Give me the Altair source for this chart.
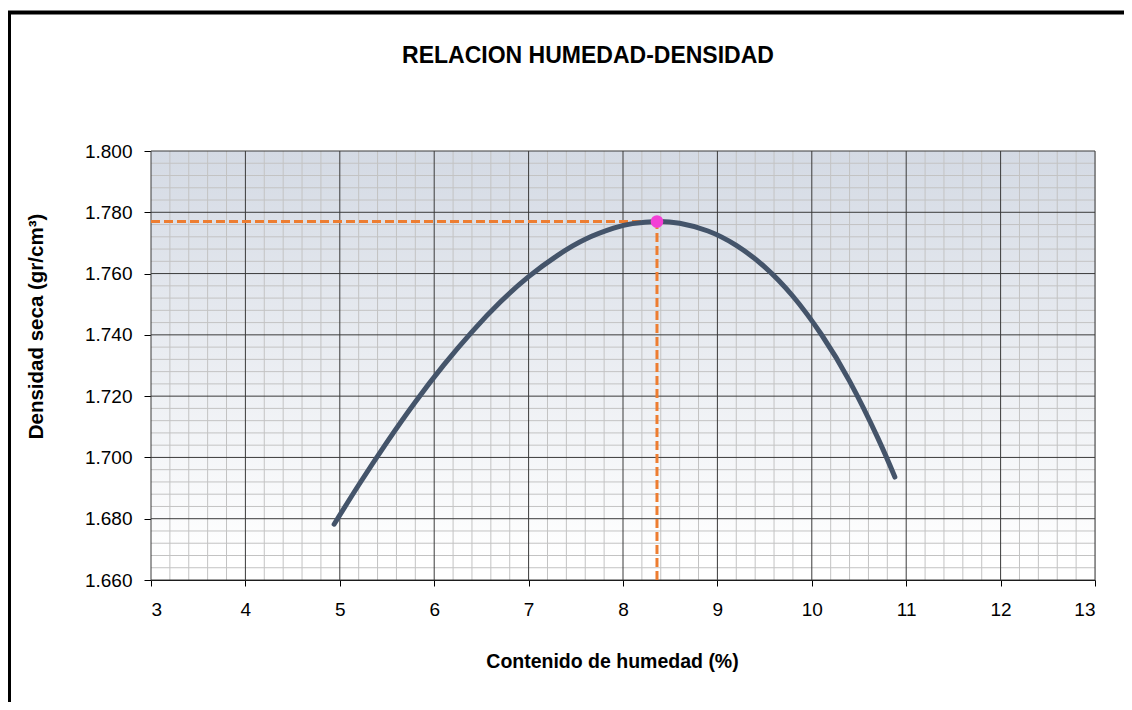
import altair as alt
import pandas as pd

# ---- data ----
moisture = [4.94, 5.20, 5.50, 5.80, 6.10, 6.40, 6.70, 7.00, 7.30, 7.60, 7.90, 8.10, 8.36,
            8.60, 8.90, 9.20, 9.50, 9.80, 10.10, 10.40, 10.70, 10.88]
density = [1.6782, 1.6910, 1.7050, 1.7181, 1.7301, 1.7410, 1.7507, 1.7590, 1.7658, 1.7712, 1.7748, 1.7763, 1.7770,
           1.7764, 1.7739, 1.7692, 1.7622, 1.7526, 1.7402, 1.7249, 1.7063, 1.6936]

opt_moisture = 8.36
max_density = 1.777

x_major = [3, 4, 5, 6, 7, 8, 9, 10, 11, 12, 13]
y_major = [1.66, 1.68, 1.70, 1.72, 1.74, 1.76, 1.78, 1.80]
x_minor = [round(3 + 0.2 * i, 1) for i in range(51) if i % 5]
y_minor = [round(1.66 + 0.004 * i, 3) for i in range(36) if i % 5]

title_text = ["RELACION HUMEDAD-DENSIDAD"]
x_title = "Contenido de humedad (%)"
y_title = "Densidad seca (gr/cm³)"

X_DOM = [3, 13]
Y_DOM = [1.66, 1.80]
W, H = 944, 429
FONT = "Liberation Sans"

xs = alt.Scale(domain=X_DOM, nice=False, zero=False)
ys = alt.Scale(domain=Y_DOM, nice=False, zero=False)

curve_df = pd.DataFrame({"x": moisture, "y": density})

# frame around the whole chart (decoration)
frame = alt.Chart(pd.DataFrame({"a": [0]})).mark_rect(
    filled=False, stroke="black", strokeWidth=4
).encode(x=alt.value(-142), x2=alt.value(1100), y=alt.value(-138.5), y2=alt.value(700))

bg = alt.Chart(pd.DataFrame({"x0": [X_DOM[0]], "x1": [X_DOM[1]], "y0": [Y_DOM[0]], "y1": [Y_DOM[1]]})).mark_rect(
    color=alt.LinearGradient(
        gradient="linear",
        stops=[alt.GradientStop(offset=0, color="#d4dae4"),
               alt.GradientStop(offset=0.95, color="#ffffff"),
               alt.GradientStop(offset=1, color="#ffffff")],
        x1=0, x2=0, y1=0, y2=1,
    )
).encode(
    x=alt.X("x0:Q", scale=xs, axis=None), x2="x1:Q",
    y=alt.Y("y0:Q", scale=ys, axis=None), y2="y1:Q",
)

minor_v = alt.Chart(pd.DataFrame({"v": x_minor})).mark_rule(color="#c3c3c3", strokeWidth=1).encode(
    x=alt.X("v:Q", scale=xs, axis=None))
minor_h = alt.Chart(pd.DataFrame({"v": y_minor})).mark_rule(color="#c3c3c3", strokeWidth=1).encode(
    y=alt.Y("v:Q", scale=ys, axis=None))
major_v = alt.Chart(pd.DataFrame({"v": x_major})).mark_rule(color="#3a3a3a", strokeWidth=1).encode(
    x=alt.X("v:Q", scale=xs, axis=None))
major_h = alt.Chart(pd.DataFrame({"v": y_major})).mark_rule(color="#3a3a3a", strokeWidth=1).encode(
    y=alt.Y("v:Q", scale=ys, axis=None))

# minor ticks (inside the plot) through their own axes
minor_ticks = alt.Chart(pd.DataFrame({"x": x_minor[:len(y_minor)], "y": y_minor})).mark_point(opacity=0).encode(
    x=alt.X("x:Q", scale=xs, axis=alt.Axis(values=x_minor, orient="bottom", offset=-4, tickSize=4,
                                           labels=False, domain=False, grid=False, title=None,
                                           tickColor="#000000", tickWidth=1)),
    y=alt.Y("y:Q", scale=ys, axis=alt.Axis(values=y_minor, orient="left", offset=-5, tickSize=5,
                                           labels=False, domain=False, grid=False, title=None,
                                           tickColor="#000000", tickWidth=1)),
)

dash_h = alt.Chart(pd.DataFrame({"x": [X_DOM[0]], "x2": [opt_moisture], "y": [max_density]})).mark_rule(
    color="#ed7d31", strokeWidth=3, strokeDash=[9, 4]
).encode(x=alt.X("x:Q", scale=xs, axis=None), x2="x2:Q", y=alt.Y("y:Q", scale=ys, axis=None))
dash_v = alt.Chart(pd.DataFrame({"x": [opt_moisture], "y": [Y_DOM[0]], "y2": [max_density]})).mark_rule(
    color="#ed7d31", strokeWidth=3, strokeDash=[9, 4]
).encode(x=alt.X("x:Q", scale=xs, axis=None), y=alt.Y("y:Q", scale=ys, axis=None), y2="y2:Q")

curve = alt.Chart(curve_df).mark_line(
    color="#44546a", strokeWidth=5, strokeCap="round", interpolate="natural"
).encode(
    x=alt.X("x:Q", scale=xs, axis=alt.Axis(
        values=x_major, orient="bottom", format="d", tickSize=6, tickColor="#000000",
        domainColor="#000000", labelPadding=14, labelFontSize=19, labelFont=FONT, labelColor="#000000",
        grid=False, title=x_title, titleFont=FONT, titleFontSize=19.5, titleFontWeight="bold",
        titleColor="#000000", titleX=461, titleY=87, titleBaseline="alphabetic", titleAnchor="middle",
        titleAlign="center")),
    y=alt.Y("y:Q", scale=ys, axis=alt.Axis(
        values=y_major, orient="left", format=".3f", tickSize=7, tickColor="#000000",
        domainColor="#000000", labelPadding=12, labelFontSize=19, labelFont=FONT, labelColor="#000000",
        grid=False, title=y_title, titleFont=FONT, titleFontSize=20.5, titleFontWeight="bold",
        titleColor="#000000", titleX=-109, titleY=175, titleBaseline="alphabetic", titleAngle=270,
        titleAnchor="middle", titleAlign="center")),
)

peak = alt.Chart(pd.DataFrame({"x": [opt_moisture], "y": [max_density]})).mark_point(
    filled=True, shape="circle", size=160, color="#f33fd6", opacity=1
).encode(x=alt.X("x:Q", scale=xs, axis=None), y=alt.Y("y:Q", scale=ys, axis=None))

title = alt.Chart(pd.DataFrame({"t": title_text})).mark_text(
    font=FONT, fontSize=23, fontWeight="bold", color="#000000", align="center", baseline="alphabetic"
).encode(text="t:N", x=alt.value(437), y=alt.value(-88))

chart = alt.layer(
    frame, bg, minor_v, minor_h, major_v, major_h, minor_ticks, dash_h, dash_v, curve, peak, title
).resolve_axis(x="independent", y="independent").properties(
    width=W, height=H,
    autosize=alt.AutoSizeParams(type="none"),
    padding={"left": 143, "top": 143, "right": 29, "bottom": 122},
).configure_view(stroke=None).configure(background="#ffffff")

chart.save("out.html", embed_options={"renderer": "svg", "actions": False})
